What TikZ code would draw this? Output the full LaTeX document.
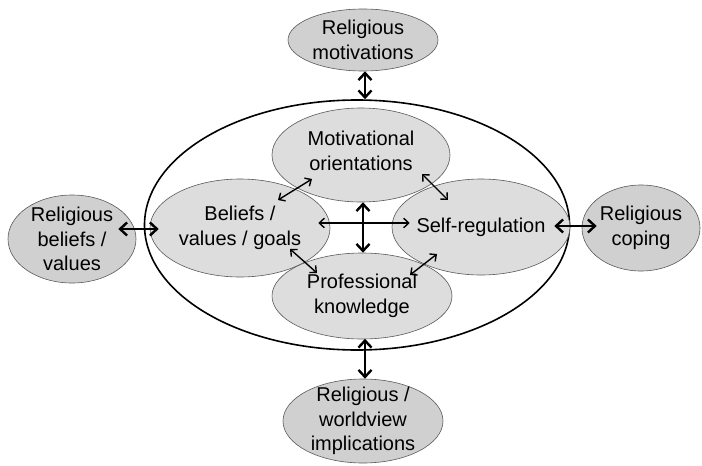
\documentclass[tikz,border=0pt]{standalone}
\usepackage{fontspec}
\setmainfont{Liberation Sans}
\usepackage{xcolor}
\usepackage{tikz}
\usetikzlibrary{arrows.meta, shapes.geometric}

\definecolor{innerfill}{RGB}{221,221,221}
\definecolor{outerfill}{RGB}{208,208,208}
\definecolor{rim}{RGB}{90,90,90}

\begin{document}
\begin{tikzpicture}[
      x=1pt, y=-1pt,
      every node/.style={font=\fontsize{20}{24.5}\selectfont},
      bubble/.style={ellipse, draw=rim, line width=0.6pt, inner sep=0pt},
      inbubble/.style={bubble, fill=innerfill},
      outbubble/.style={bubble, fill=outerfill},
      txt/.style={align=center, inner sep=0pt},
      bigarrow/.style={{Straight Barb[length=7pt,width=13pt]}-{Straight Barb[length=7pt,width=13pt]}, line width=2.4pt},
      smallarrow/.style={{Straight Barb[length=5pt,width=9.5pt]}-{Straight Barb[length=5pt,width=9.5pt]}, line width=1.4pt}
    ]
      \useasboundingbox (0,0) rectangle (702,466);

      % big frame round the four inner parts
      \node[ellipse, draw, line width=1.6pt, minimum width=425pt, minimum height=250pt] (frame) at (357,225) {};

      % inner parts
      \node[inbubble, minimum width=178pt, minimum height=94pt] (mot) at (361,155) {};
      \node[inbubble, minimum width=180pt, minimum height=98pt] (bel) at (240,228) {};
      \node[inbubble, minimum width=178pt, minimum height=96pt] (selfreg) at (481,227) {};
      \node[inbubble, minimum width=180pt, minimum height=86pt] (prof) at (362,296) {};
      \node[txt] at ([yshift=4pt]mot.center) {Motivational\\orientations};
      \node[txt] at (bel) {Beliefs /\\values / goals};
      \node[txt] at (selfreg.center) {Self-regulation};
      \node[txt] at (prof) {Professional\\knowledge};

      % religious parts
      \node[outbubble, minimum width=150pt, minimum height=62pt] (relmot) at (363,40) {};
      \node[outbubble, minimum width=128pt, minimum height=88pt] (relbel) at (72,239) {};
      \node[outbubble, minimum width=118pt, minimum height=86pt] (relcop) at (641,228) {};
      \node[outbubble, minimum width=160pt, minimum height=84pt] (relimp) at (363,421) {};
      \node[txt] at (relmot) {Religious\\motivations};
      \node[txt] at (relbel) {Religious\\beliefs /\\values};
      \node[txt] at (relcop) {Religious\\coping};
      \node[txt] at (relimp) {Religious /\\worldview\\implications};

      % links to the frame
      \draw[bigarrow] ([xshift=2pt]relmot.south) -- ([xshift=8pt]frame.north);
      \draw[bigarrow] ([xshift=2pt]relimp.north) -- ([xshift=8pt,yshift=12pt]frame.south);
      \draw[bigarrow] ([xshift=-18pt,yshift=10pt]relbel.east) -- ([xshift=15pt,yshift=-4pt]frame.west);
      \draw[bigarrow] ([xshift=15pt,yshift=2pt]relcop.west) -- ([xshift=-16pt,yshift=-1pt]frame.east);

      % links inside
      \draw[bigarrow] ([xshift=2pt]mot.south) -- ([xshift=1pt]prof.north);
      \draw[smallarrow] ([xshift=-12pt,yshift=5pt]bel.east) -- ([xshift=18pt,yshift=4pt]selfreg.west);
      \draw[smallarrow] ([shift={(38,-28)}]bel.center) -- ([shift={(-49,24)}]mot.center);
      \draw[smallarrow] ([shift={(61,19)}]mot.center) -- ([shift={(-33,-27)}]selfreg.center);
      \draw[smallarrow] ([shift={(50,21)}]bel.center) -- ([shift={(-45,-23)}]prof.center);
      \draw[smallarrow] ([shift={(-44,27)}]selfreg.center) -- ([shift={(48,-21)}]prof.center);
    \end{tikzpicture}
\end{document}
